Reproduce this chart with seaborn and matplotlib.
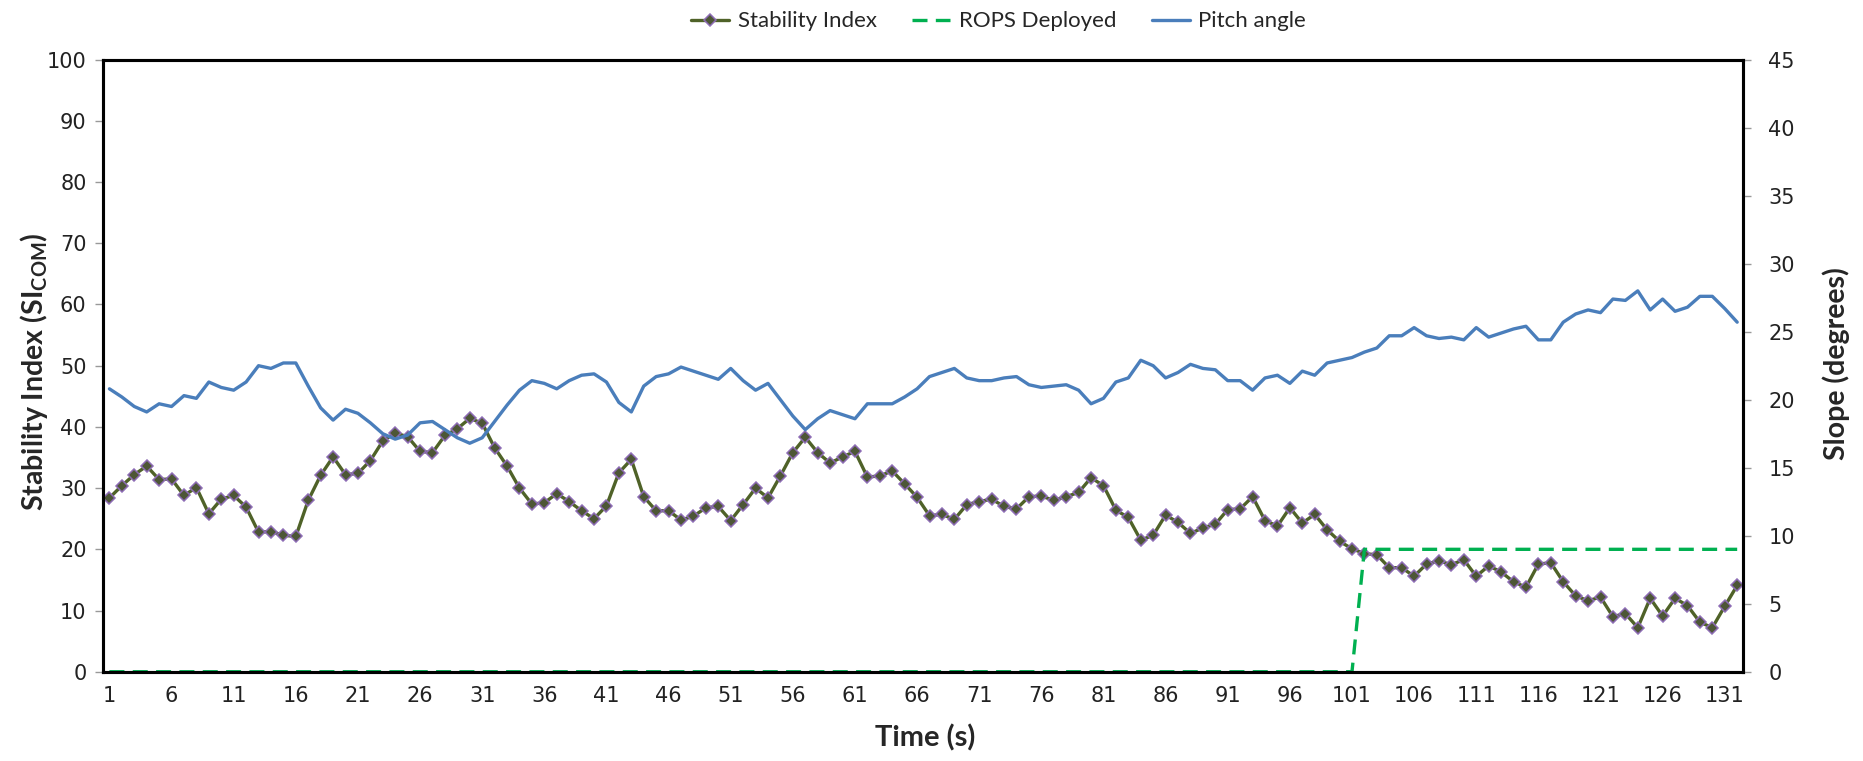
import matplotlib
matplotlib.use("Agg")
from matplotlib import pyplot as plt
from matplotlib.ticker import FixedLocator, MultipleLocator, NullFormatter
import seaborn as sns
import pandas as pd

# time categories (s)
time_s = list(range(1, 133))

# stability index (SI_COM), left axis
stability_index = [
    28.4, 30.4, 32.2, 33.6, 31.4, 31.5, 28.8, 30.1, 25.8, 28.2,
    28.8, 26.9, 22.8, 22.9, 22.3, 22.1, 28.0, 32.1, 35.1, 32.2,
    32.4, 34.5, 37.7, 39.0, 38.4, 36.0, 35.8, 38.6, 39.7, 41.4,
    40.6, 36.6, 33.6, 30.0, 27.4, 27.6, 29.1, 27.8, 26.3, 25.0,
    27.1, 32.5, 34.7, 28.6, 26.3, 26.3, 24.8, 25.4, 26.8, 27.0,
    24.7, 27.3, 30.0, 28.4, 32.0, 35.8, 38.3, 35.8, 34.1, 35.1,
    36.0, 31.8, 32.0, 32.8, 30.7, 28.5, 25.5, 25.7, 24.9, 27.3,
    27.8, 28.2, 27.0, 26.6, 28.6, 28.7, 28.0, 28.6, 29.3, 31.7,
    30.4, 26.4, 25.2, 21.5, 22.3, 25.6, 24.4, 22.6, 23.5, 24.1,
    26.5, 26.6, 28.6, 24.7, 23.8, 26.8, 24.3, 25.7, 23.2, 21.3,
    20.1, 19.3, 19.1, 17.0, 17.0, 15.6, 17.6, 18.1, 17.5, 18.3,
    15.6, 17.3, 16.3, 14.7, 13.8, 17.6, 17.8, 14.7, 12.4, 11.6,
    12.2, 9.0, 9.5, 7.2, 12.0, 9.1, 12.0, 10.8, 8.1, 7.2,
    10.7, 14.1,
]

# ROPS deployed flag, left axis
rops_deployed = [
    0, 0, 0, 0, 0, 0, 0, 0, 0, 0,
    0, 0, 0, 0, 0, 0, 0, 0, 0, 0,
    0, 0, 0, 0, 0, 0, 0, 0, 0, 0,
    0, 0, 0, 0, 0, 0, 0, 0, 0, 0,
    0, 0, 0, 0, 0, 0, 0, 0, 0, 0,
    0, 0, 0, 0, 0, 0, 0, 0, 0, 0,
    0, 0, 0, 0, 0, 0, 0, 0, 0, 0,
    0, 0, 0, 0, 0, 0, 0, 0, 0, 0,
    0, 0, 0, 0, 0, 0, 0, 0, 0, 0,
    0, 0, 0, 0, 0, 0, 0, 0, 0, 0,
    0, 20, 20, 20, 20, 20, 20, 20, 20, 20,
    20, 20, 20, 20, 20, 20, 20, 20, 20, 20,
    20, 20, 20, 20, 20, 20, 20, 20, 20, 20,
    20, 20,
]

# pitch angle (degrees), right axis
pitch_angle = [
    20.8, 20.2, 19.5, 19.1, 19.7, 19.5, 20.3, 20.1, 21.3, 20.9,
    20.7, 21.3, 22.5, 22.3, 22.7, 22.7, 21.0, 19.4, 18.5, 19.3,
    19.0, 18.3, 17.5, 17.1, 17.4, 18.3, 18.4, 17.8, 17.2, 16.8,
    17.2, 18.4, 19.6, 20.7, 21.4, 21.2, 20.8, 21.4, 21.8, 21.9,
    21.3, 19.8, 19.1, 21.0, 21.7, 21.9, 22.4, 22.1, 21.8, 21.5,
    22.3, 21.4, 20.7, 21.2, 20.0, 18.8, 17.8, 18.6, 19.2, 18.9,
    18.6, 19.7, 19.7, 19.7, 20.2, 20.8, 21.7, 22.0, 22.3, 21.6,
    21.4, 21.4, 21.6, 21.7, 21.1, 20.9, 21.0, 21.1, 20.7, 19.7,
    20.1, 21.3, 21.6, 22.9, 22.5, 21.6, 22.0, 22.6, 22.3, 22.2,
    21.4, 21.4, 20.7, 21.6, 21.8, 21.2, 22.1, 21.8, 22.7, 22.9,
    23.1, 23.5, 23.8, 24.7, 24.7, 25.3, 24.7, 24.5, 24.6, 24.4,
    25.3, 24.6, 24.9, 25.2, 25.4, 24.4, 24.4, 25.7, 26.3, 26.6,
    26.4, 27.4, 27.3, 28.0, 26.6, 27.4, 26.5, 26.8, 27.6, 27.6,
    26.7, 25.7,
]

x_labels = [1, 6, 11, 16, 21, 26, 31, 36, 41, 46, 51, 56, 61, 66,
            71, 76, 81, 86, 91, 96, 101, 106, 111, 116, 121, 126, 131]

df = pd.DataFrame({'time': time_s, 'si': stability_index,
                   'rops': rops_deployed, 'pitch': pitch_angle})

sns.set_style("white")
plt.rcParams['font.family'] = ['DejaVu Sans']
plt.rcParams['mathtext.fontset'] = 'custom'
plt.rcParams['mathtext.bf'] = 'Lato:bold'
plt.rcParams['mathtext.rm'] = 'Lato'

fig = plt.figure(figsize=(18.63, 7.61), dpi=100)
ax = fig.add_axes([0.0554, 0.1173, 0.8804, 0.8043])
ax2 = ax.twinx()

sns.lineplot(data=df, x='time', y='si', ax=ax, color='#4f6228', lw=2.4,
             marker='D', markersize=6.3, markerfacecolor='#4d5636',
             markeredgecolor='#8d6cb5', markeredgewidth=1.1,
             label='Stability Index', legend=False)
sns.lineplot(data=df, x='time', y='rops', ax=ax, color='#00b050', lw=2.4,
             dashes=False, label='ROPS Deployed', legend=False)
ax.lines[-1].set_dashes((4.5, 2.5))
sns.lineplot(data=df, x='time', y='pitch', ax=ax2, color='#4a7ebb', lw=2.4,
             label='Pitch angle', legend=False)

ax.set_xlim(0.5, 132.5)
ax.set_ylim(0, 100)
ax2.set_ylim(0, 45)
ax.yaxis.set_major_locator(MultipleLocator(10))
ax2.yaxis.set_major_locator(MultipleLocator(5))

ax.xaxis.set_major_locator(FixedLocator(x_labels))
ax.xaxis.set_minor_locator(FixedLocator([v + 0.5 for v in range(0, 133)]))
ax.xaxis.set_minor_formatter(NullFormatter())
ax.tick_params(axis='x', which='major', length=0, pad=10, labelsize=15, colors='#222222')
ax.tick_params(axis='x', which='minor', length=7, width=1, color='#999999')
ax.tick_params(axis='y', length=6, width=1, color='#999999', labelsize=15, labelcolor='#222222', pad=6)
ax2.tick_params(axis='y', length=6, width=1, color='#999999', labelsize=15, labelcolor='#222222', pad=12)

for a in (ax, ax2):
    for s in a.spines.values():
        s.set_color('black')
        s.set_linewidth(2.2)
        s.set_visible(True)

ax.set_xlabel('')
ax.set_ylabel('')
ax2.set_ylabel('')
fig.text(0.4965, 0.031, 'Time (s)', ha='center', va='center',
         fontsize=21, fontweight='bold', family='Lato')
fig.text(0.0185, 0.511, r'Stability Index (SI$_{\mathbf{COM}}$)', ha='center', va='center',
         rotation=90, fontsize=20.5, fontweight='bold', family='Lato')
fig.text(0.9855, 0.522, 'Slope (degrees)', ha='center', va='center',
         rotation=90, fontsize=20.5, fontweight='bold', family='Lato')

h1, l1 = ax.get_legend_handles_labels()
h2, l2 = ax2.get_legend_handles_labels()
fig.legend(h1 + h2, l1 + l2, loc='center', bbox_to_anchor=(0.536, 0.972),
           ncol=3, frameon=False, prop={'family': 'Lato', 'size': 16},
           handlelength=1.7, columnspacing=1.6, handletextpad=0.4)

fig.savefig('out.png', dpi=100)
